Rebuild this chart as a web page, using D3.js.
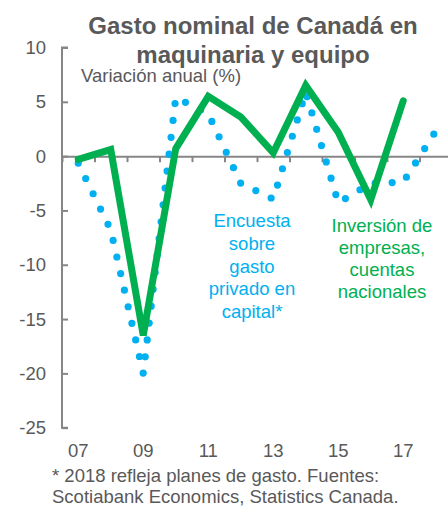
<!DOCTYPE html>
<html>
<head>
<meta charset="utf-8">
<script src="https://cdn.jsdelivr.net/npm/d3@7"></script>
<style>
  body { margin: 0; background: #fff; }
  svg { display: block; }
</style>
</head>
<body>
<svg id="chart"></svg>
<script>
// data
const years = [2007, 2008, 2009, 2010, 2011, 2012, 2013, 2014, 2015, 2016, 2017, 2018];
const surveyValues = [-0.65, -6.8, -20.0, 5.4, 3.9, -2.5, -3.95, 5.9, -4.3, -2.5, -2.4, 2.3];
const accountsYears = [2007, 2008, 2009, 2010, 2011, 2012, 2013, 2014, 2015, 2016, 2017];
const accountsValues = [-0.3, 0.6, -16.5, 0.7, 5.5, 3.6, 0.3, 6.5, 2.2, -4.0, 5.1];
const yTicks = [10, 5, 0, -5, -10, -15, -20, -25];
const xLabelYears = [2007, 2009, 2011, 2013, 2015, 2017];
const titleLines = ["Gasto nominal de Canadá en", "maquinaria y equipo"];
const surveyLabel = ["Encuesta", "sobre", "gasto", "privado en", "capital*"];
const accountsLabel = ["Inversión de", "empresas,", "cuentas", "nacionales"];
const footnote = ["* 2018 refleja planes de gasto. Fuentes:", "Scotiabank Economics, Statistics Canada."];

const W = 448, H = 506;
const font = "'Liberation Sans', Arial, sans-serif";
const grey = "#595959";
const axisGrey = "#868686";
const blue = "#00B0F0";
const green = "#00B050";

const svg = d3.select("#chart").attr("width", W).attr("height", H);

// scales
const x = d3.scaleLinear().domain([2007, 2019]).range([62, 452]);
const xc = (yr) => x(yr + 0.5);
const y = d3.scaleLinear().domain([-25, 10]).range([427.7, 47.5]);

// y axis, ticks pointing inward
const yAxis = svg.append("g")
  .attr("transform", "translate(62,0)")
  .call(d3.axisRight(y).tickValues(yTicks).tickSize(6).tickFormat(""));
yAxis.select(".domain").attr("d", `M6,${y(10)}H0V${y(-25)}H6`);
yAxis.selectAll("path, line").attr("stroke", axisGrey).attr("stroke-width", 2);

svg.append("g").selectAll("text")
  .data(yTicks)
  .join("text")
  .attr("x", 46)
  .attr("y", (d) => y(d))
  .attr("dy", "0.35em")
  .attr("text-anchor", "end")
  .attr("font-family", font)
  .attr("font-size", 18.5)
  .attr("fill", grey)
  .text((d) => d);

// x axis on the zero line, ticks between years
const xAxis = svg.append("g")
  .attr("transform", `translate(0,${y(0)})`)
  .call(d3.axisBottom(x).tickValues(d3.range(2007, 2020)).tickSizeInner(6).tickSizeOuter(0).tickFormat(""));
xAxis.selectAll("path, line").attr("stroke", axisGrey).attr("stroke-width", 2);

svg.append("g").selectAll("text")
  .data(xLabelYears)
  .join("text")
  .attr("x", (d) => xc(d))
  .attr("y", 457)
  .attr("text-anchor", "middle")
  .attr("font-family", font)
  .attr("font-size", 18.5)
  .attr("fill", grey)
  .text((d) => String(d).slice(2));

// survey series: dotted line
const line = d3.line()
  .x((d) => xc(d[0]))
  .y((d) => y(d[1]));

svg.append("path")
  .datum(d3.zip(years, surveyValues))
  .attr("fill", "none")
  .attr("stroke", blue)
  .attr("stroke-width", 7.2)
  .attr("stroke-linecap", "round")
  .attr("stroke-linejoin", "round")
  .attr("stroke-dasharray", "0 17")
  .attr("d", line);

// national accounts series: solid line
svg.append("path")
  .datum(d3.zip(accountsYears, accountsValues))
  .attr("fill", "none")
  .attr("stroke", green)
  .attr("stroke-width", 7)
  .attr("stroke-linecap", "round")
  .attr("stroke-linejoin", "miter")
  .attr("d", line);

// title
svg.append("g").selectAll("text")
  .data(titleLines)
  .join("text")
  .attr("x", 253)
  .attr("y", (d, i) => 34 + i * 29)
  .attr("text-anchor", "middle")
  .attr("font-family", font)
  .attr("font-size", 24)
  .attr("font-weight", "bold")
  .attr("fill", grey)
  .text((d) => d);

svg.append("text")
  .attr("x", 81)
  .attr("y", 82)
  .attr("font-family", font)
  .attr("font-size", 18.5)
  .attr("fill", grey)
  .text("Variación anual (%)");

// series labels
svg.append("g").selectAll("text")
  .data(surveyLabel)
  .join("text")
  .attr("x", 252)
  .attr("y", (d, i) => 227 + i * 22.8)
  .attr("text-anchor", "middle")
  .attr("font-family", font)
  .attr("font-size", 18.5)
  .attr("fill", blue)
  .text((d) => d);

svg.append("g").selectAll("text")
  .data(accountsLabel)
  .join("text")
  .attr("x", 382)
  .attr("y", (d, i) => 232 + i * 22)
  .attr("text-anchor", "middle")
  .attr("font-family", font)
  .attr("font-size", 18.5)
  .attr("fill", green)
  .text((d) => d);

// footnote
svg.append("g").selectAll("text")
  .data(footnote)
  .join("text")
  .attr("x", 52)
  .attr("y", (d, i) => 481.5 + i * 21.7)
  .attr("font-family", font)
  .attr("font-size", 18.5)
  .attr("fill", grey)
  .text((d) => d);
</script>
</body>
</html>
